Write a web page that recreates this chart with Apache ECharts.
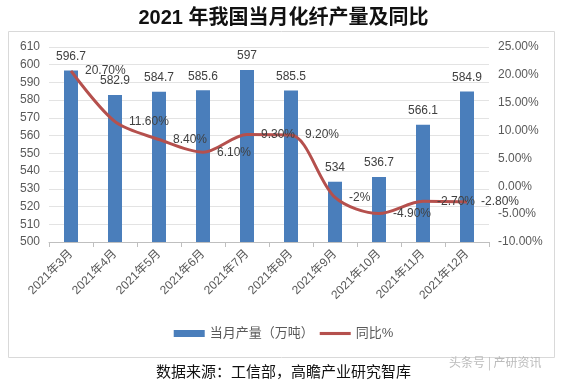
<!DOCTYPE html>
<html>
<head>
<meta charset="utf-8">
<script src="https://cdn.jsdelivr.net/npm/echarts@6/dist/echarts.min.js"></script>
<style>
html,body{margin:0;padding:0;background:#fff;}
#chart{width:567px;height:382px;}
</style>
</head>
<body>
<div id="chart"></div>
<script>
var categories = ['2021年3月','2021年4月','2021年5月','2021年6月','2021年7月','2021年8月','2021年9月','2021年10月','2021年11月','2021年12月'];
var output = [596.7, 582.9, 584.7, 585.6, 597, 585.5, 534, 536.7, 566.1, 584.9];
var yoy = [20.7, 11.6, 8.4, 6.1, 9.3, 9.2, -2, -4.9, -2.7, -2.8];
var yoyLabels = ['20.70%','11.60%','8.40%','6.10%','9.30%','9.20%','-2%','-4.90%','-2.70%','-2.80%'];

var FONT = '"Liberation Sans","Noto Sans CJK SC",sans-serif';
var chart = echarts.init(document.getElementById('chart'));
chart.setOption({
  animation: false,
  textStyle: {fontFamily: FONT},
  title: {
    text: '2021 年我国当月化纤产量及同比',
    left: 'center', top: 3,
    textStyle: {fontSize: 20, fontWeight: 'bold', color: '#111', fontFamily: FONT}
  },
  graphic: [
    {type: 'rect', shape: {x: 8.5, y: 31.5, width: 546, height: 326}, style: {fill: 'none', stroke: '#d9d9d9', lineWidth: 1}, z: -1},
    {type: 'text', left: 'center', top: 364, style: {text: '数据来源：工信部，高瞻产业研究智库', fontSize: 15, fill: '#111', fontFamily: '"Noto Sans CJK SC",sans-serif'}},
    {type: 'text', left: 449, top: 356, style: {text: '头条号 | 产研资讯', fontSize: 12, fill: '#bbbbbb', fontFamily: '"Noto Sans CJK SC",sans-serif'}}
  ],
  legend: {
    bottom: 37, left: 'center',
    itemWidth: 31, itemHeight: 7, itemGap: 6,
    textStyle: {fontSize: 13, color: '#595959', fontFamily: FONT},
    data: [
      {name: '当月产量（万吨）', icon: 'rect'},
      {name: '同比%', icon: 'path://M0,0 L30,0 L30,3 L0,3 Z', itemStyle: {color: '#b5504d', opacity: 1}}
    ]
  },
  grid: {left: 49, right: 78, top: 47, bottom: 140},
  xAxis: {
    type: 'category', data: categories,
    axisLine: {onZero: false, lineStyle: {color: '#bfbfbf'}},
    axisTick: {show: true, lineStyle: {color: '#bfbfbf'}},
    axisLabel: {rotate: 45, fontSize: 12, color: '#595959', interval: 0, margin: 10}
  },
  yAxis: [
    {
      type: 'value', min: 500, max: 610, interval: 10,
      axisLine: {show: false}, axisTick: {show: false},
      axisLabel: {fontSize: 12, color: '#595959', margin: 9},
      splitLine: {lineStyle: {color: '#e3e3e3'}}
    },
    {
      type: 'value', min: -10, max: 25, interval: 5,
      axisLine: {show: false}, axisTick: {show: false},
      axisLabel: {fontSize: 12, color: '#595959', margin: 9, formatter: function (v) { return v.toFixed(2) + '%'; }},
      splitLine: {show: false}
    }
  ],
  series: [
    {
      name: '当月产量（万吨）', type: 'bar', data: output, barWidth: 14,
      itemStyle: {color: '#4a7ebb'},
      label: {show: true, position: 'top', distance: 8, fontSize: 12, color: '#404040'}
    },
    {
      name: '同比%', type: 'line', yAxisIndex: 1, data: yoy, smooth: 0.3,
      symbol: 'circle', symbolSize: 0, showSymbol: true,
      lineStyle: {color: '#b5504d', width: 3},
      itemStyle: {color: '#b5504d'},
      label: {show: true, position: 'right', distance: 14, fontSize: 12, color: '#404040',
        formatter: function (p) { return yoyLabels[p.dataIndex]; }},
      labelLayout: {hideOverlap: false}
    }
  ]
});
</script>
</body>
</html>
